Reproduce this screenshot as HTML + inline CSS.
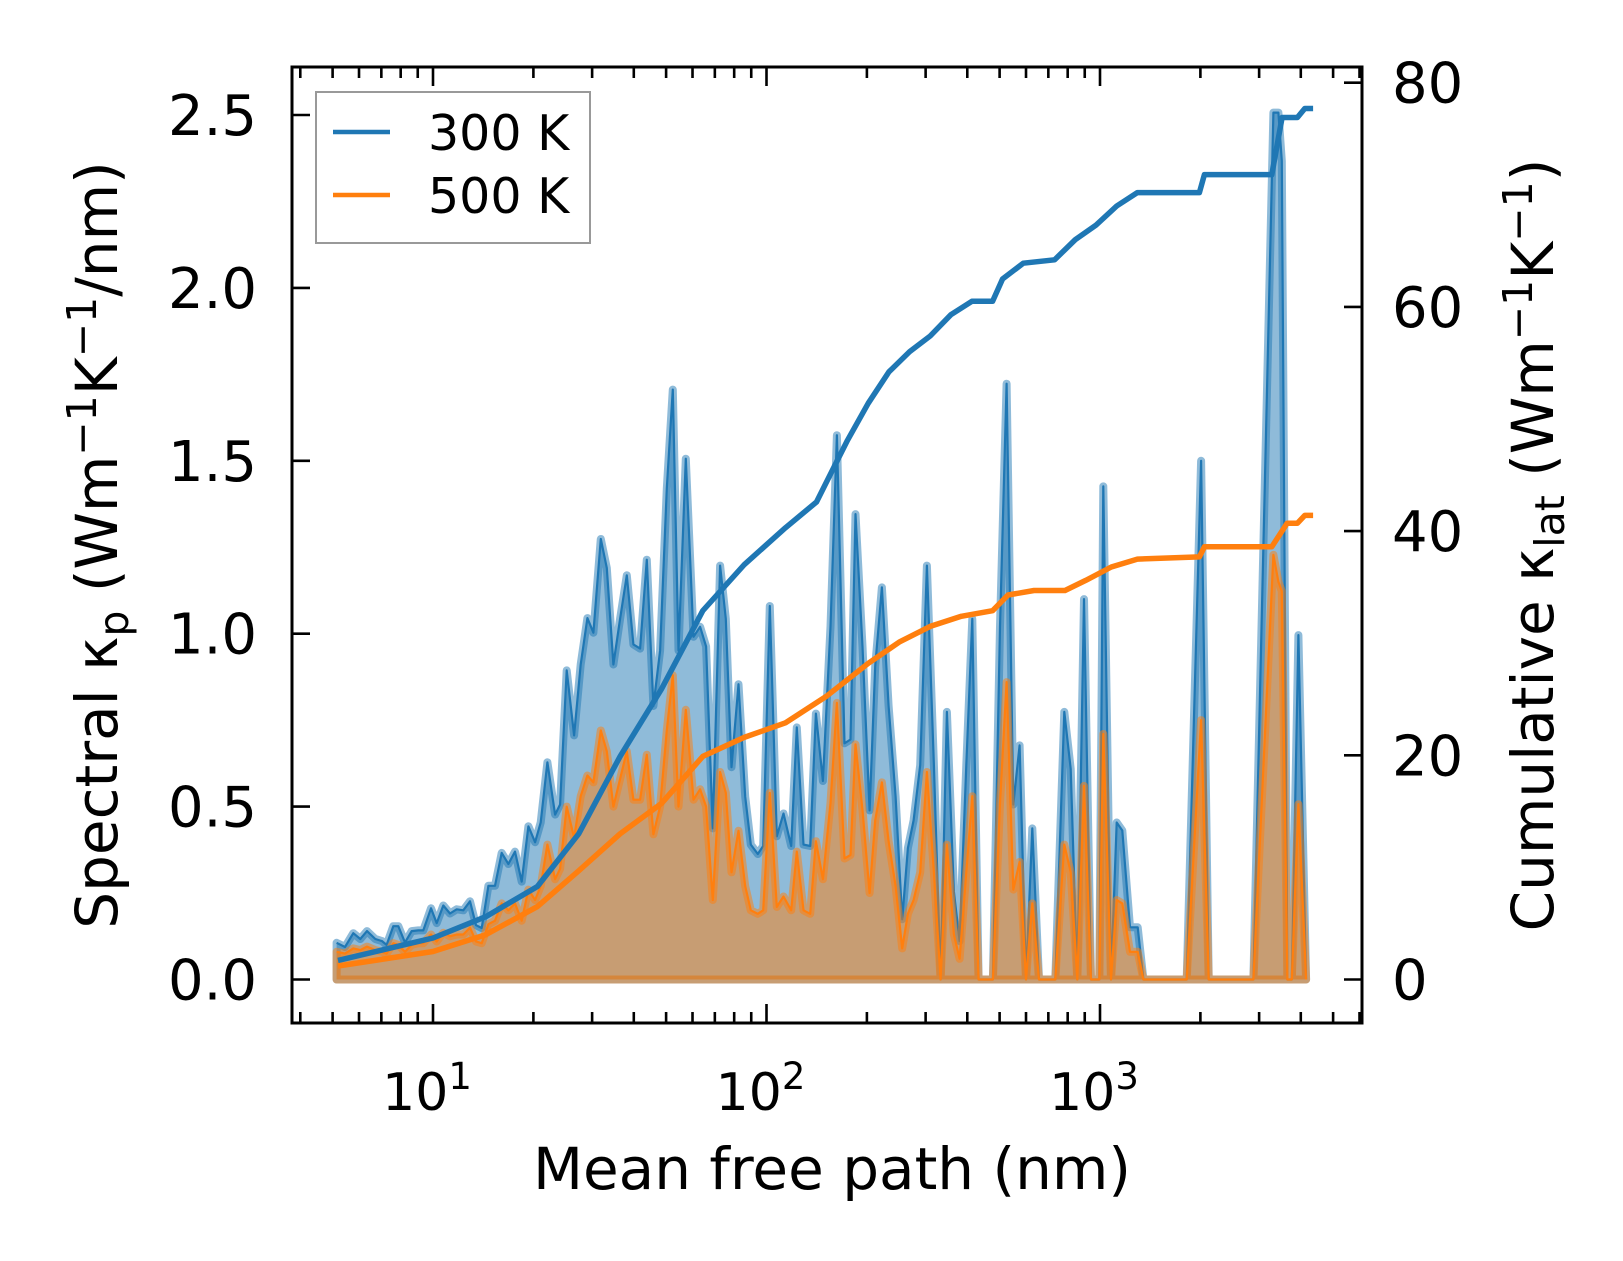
<!DOCTYPE html>
<html><head><meta charset="utf-8"><style>
html,body{margin:0;padding:0;background:#fff;}
svg{display:block;}
text{font-family:"DejaVu Sans","Liberation Sans",sans-serif;fill:#000;}
</style></head><body>
<svg id="chart" width="1623" height="1261" viewBox="0 0 1623 1261" xmlns="http://www.w3.org/2000/svg">
<rect width="1623" height="1261" fill="#fff"/>
<g id="plot"></g>
<g id="axes"></g>
</svg>
<script>
// log10 of mean free path (nm)
const logMfp = [0.711,0.736,0.761,0.782,0.802,0.827,0.847,0.861,0.881,0.896,0.916,0.936,0.956,0.971,0.994,1.011,1.031,1.051,1.071,1.091,1.111,1.129,1.146,1.166,1.186,1.206,1.226,1.246,1.266,1.286,1.306,1.323,1.343,1.366,1.381,1.401,1.423,1.443,1.463,1.481,1.503,1.521,1.541,1.561,1.581,1.601,1.621,1.641,1.661,1.681,1.701,1.719,1.736,1.758,1.781,1.801,1.819,1.839,1.861,1.878,1.895,1.916,1.936,1.953,1.974,1.990,2.010,2.031,2.051,2.074,2.091,2.111,2.131,2.148,2.169,2.192,2.211,2.234,2.252,2.267,2.288,2.309,2.326,2.346,2.366,2.387,2.407,2.424,2.441,2.461,2.481,2.502,2.522,2.541,2.562,2.579,2.599,2.617,2.636,2.659,2.679,2.700,2.720,2.740,2.759,2.778,2.797,2.817,2.837,2.866,2.893,2.912,2.932,2.952,2.973,2.998,3.010,3.033,3.050,3.067,3.090,3.113,3.130,3.148,3.200,3.260,3.303,3.326,3.343,3.400,3.460,3.520,3.535,3.545,3.562,3.575,3.595,3.618,3.640];
const k300 = [0.106,0.094,0.134,0.117,0.14,0.117,0.111,0.10,0.154,0.154,0.107,0.14,0.142,0.142,0.206,0.163,0.214,0.191,0.203,0.2,0.226,0.157,0.149,0.271,0.271,0.366,0.334,0.37,0.283,0.443,0.397,0.454,0.628,0.477,0.506,0.894,0.706,0.911,1.045,1.003,1.274,1.19,0.911,1.043,1.169,0.969,0.957,1.214,0.791,0.951,1.42,1.706,0.951,1.506,0.991,1.02,0.963,0.437,1.197,1.043,0.614,0.854,0.529,0.39,0.363,0.386,1.08,0.414,0.48,0.386,0.729,0.39,0.386,0.769,0.574,1.02,1.574,0.683,0.694,1.346,0.963,0.489,0.906,1.134,0.791,0.529,0.174,0.38,0.46,0.62,1.197,0.62,0,0.774,0.254,0.111,0.62,1.043,0,0,0,1.02,1.723,0.506,0.677,0,0.437,0,0,0,0.774,0.609,0,1.1,0,0,1.426,0,0.454,0.431,0.151,0.151,0,0,0,0,1.5,0,0,0,0,2.507,2.507,2.367,0,0,0.996,0];
const k500 = [0.08,0.075,0.09,0.085,0.095,0.085,0.08,0.075,0.105,0.10,0.08,0.10,0.105,0.105,0.13,0.11,0.135,0.125,0.13,0.13,0.15,0.11,0.105,0.16,0.17,0.22,0.2,0.22,0.17,0.26,0.23,0.27,0.39,0.29,0.32,0.50,0.41,0.53,0.59,0.57,0.72,0.66,0.50,0.58,0.66,0.52,0.52,0.65,0.42,0.50,0.72,0.88,0.50,0.78,0.52,0.55,0.50,0.23,0.60,0.54,0.31,0.43,0.27,0.20,0.19,0.20,0.54,0.21,0.24,0.20,0.37,0.20,0.19,0.40,0.29,0.51,0.80,0.35,0.36,0.68,0.49,0.25,0.46,0.57,0.40,0.27,0.09,0.19,0.23,0.31,0.60,0.31,0,0.39,0.13,0.06,0.31,0.53,0,0,0,0.51,0.86,0.26,0.34,0,0.22,0,0,0,0.39,0.31,0,0.56,0,0,0.71,0,0.23,0.22,0.08,0.08,0,0,0,0,0.75,0,0,0,0,1.228,1.15,1.123,0,0,0.507,0];
// cumulative kappa
const cumLog = [0.715,1.0,1.158,1.313,1.437,1.561,1.685,1.809,1.933,2.057,2.150,2.197,2.243,2.305,2.367,2.429,2.491,2.553,2.616,2.678,2.708,2.770,2.864,2.926,2.988,3.050,3.112,3.298,3.313,3.515,3.546,3.592,3.614,3.639];
const cum300 = [1.7,3.7,5.6,8.3,13,19.9,25.9,32.9,37,40.3,42.6,45.4,48.1,51.4,54.2,56,57.4,59.3,60.5,60.5,62.5,63.9,64.2,66,67.3,69,70.2,70.2,71.8,71.8,76.9,76.9,77.7,77.7];
const cum500Log = [0.715,1.0,1.158,1.313,1.437,1.561,1.685,1.809,1.933,2.057,2.181,2.305,2.398,2.491,2.584,2.678,2.724,2.802,2.895,2.957,3.034,3.112,3.298,3.313,3.515,3.561,3.592,3.614,3.639];
const cum500 = [1.2,2.5,4.0,6.5,9.7,13,15.7,19.9,21.6,22.9,25.3,28.2,30.1,31.5,32.4,32.9,34.3,34.7,34.7,35.6,36.8,37.5,37.7,38.6,38.6,40.7,40.7,41.4,41.4];
const leftTicks = [0,0.5,1.0,1.5,2.0,2.5];
const leftTickLabels = ["0.0","0.5","1.0","1.5","2.0","2.5"];
const rightTicks = [0,20,40,60,80];
const xMajor = [1,2,3];

const NS="http://www.w3.org/2000/svg";
const L=292,R=1362,T=67,B=1023;
const X = lg => 433 + (lg-1)*333.5;
const Y = v => 979.5 - v*345.8;
const Y2 = c => 979.5 - c*11.21;
const plot=document.getElementById('plot'), axes=document.getElementById('axes');
function mk(tag, attrs, parent){const e=document.createElementNS(NS,tag);for(const k in attrs)e.setAttribute(k,attrs[k]);parent.appendChild(e);return e;}

function area(ks,color,name){
  const n=Math.min(logMfp.length,ks.length);
  const pts=[];
  for(let i=0;i<n;i++){pts.push(X(logMfp[i]).toFixed(1)+' '+Y(+ks[i]||0).toFixed(1));}
  const d='M'+X(logMfp[0]).toFixed(1)+' '+Y(0).toFixed(1)+' L'+pts.join(' L')+' L'+X(logMfp[n-1]).toFixed(1)+' '+Y(0).toFixed(1)+' Z';
  const a=mk('path',{d:d,fill:color,'fill-opacity':0.5,stroke:color,'stroke-opacity':0.5,'stroke-width':8,'stroke-linejoin':'round'},plot);
  
  
  const l=mk('path',{d:'M'+pts.join(' L'),fill:'none',stroke:color,'stroke-width':2.2,'stroke-linejoin':'round'},plot);
  
  
}
area(k300,'#1f77b4','spectral-300k');
area(k500,'#ff7f0e','spectral-500k');
function cumLine(xs,vs,color,name){
  const n=Math.min(xs.length,vs.length);
  const pts=[];
  for(let i=0;i<n;i++)pts.push(X(xs[i]).toFixed(1)+' '+Y2(vs[i]).toFixed(1));
  const l=mk('path',{d:'M'+pts.join(' L'),fill:'none',stroke:color,'stroke-width':5.5,'stroke-linejoin':'round'},plot);
  
  
}
cumLine(cumLog,cum300,'#1f77b4','cumulative-300k');
cumLine(cum500Log,cum500,'#ff7f0e','cumulative-500k');

const sp=mk('rect',{x:L,y:T,width:R-L,height:B-T,fill:'none',stroke:'#000','stroke-width':3},axes);


leftTicks.forEach((v,i)=>{
  const t=mk('line',{x1:L,x2:L+18,y1:Y(v),y2:Y(v),stroke:'#000','stroke-width':2.6},axes);
  
  
  const tx=mk('text',{x:257,y:Y(v)+20,'font-size':56,'text-anchor':'end'},axes);
  tx.textContent=leftTickLabels[i];
  
  
});
rightTicks.forEach(v=>{
  const t=mk('line',{x1:R-18,x2:R,y1:Y2(v),y2:Y2(v),stroke:'#000','stroke-width':2.6},axes);
  
  
  const tx=mk('text',{x:1392,y:Y2(v)+20,'font-size':56},axes);
  tx.textContent=String(v);
  
  
});
for(let d=0;d<=3;d++){for(let m=1;m<=9;m++){
  const lg=d+Math.log10(m); const x=X(lg); if(x<L+2||x>R-2)continue;
  const len=m===1?19:11;
  const b=mk('line',{x1:x,x2:x,y1:B,y2:B-len,stroke:'#000','stroke-width':2.6},axes);
  
  
  const t=mk('line',{x1:x,x2:x,y1:T,y2:T+len,stroke:'#000','stroke-width':2.6},axes);
  
  
}}
xMajor.forEach(p=>{
  const tx=mk('text',{x:X(p)-6,y:1110,'font-size':52,'text-anchor':'middle'},axes);
  
  
  tx.textContent='10';
  const s=mk('tspan',{dy:-21,'font-size':37},tx); s.textContent=String(p);
});
</script>
<svg style="position:absolute;left:0;top:0" width="1623" height="1261" viewBox="0 0 1623 1261" xmlns="http://www.w3.org/2000/svg">
<g>
<rect x="316" y="92" width="274" height="151" fill="#fff" fill-opacity="0.8" stroke="#999" stroke-width="2"/>
<line x1="333" y1="132" x2="390" y2="132" stroke="#1f77b4" stroke-width="4.5"/>
<text x="428" y="150" font-size="49" font-family="DejaVu Sans, sans-serif">300 K</text>
<line x1="333" y1="195" x2="390" y2="195" stroke="#ff7f0e" stroke-width="4.5"/>
<text x="428" y="213" font-size="49" font-family="DejaVu Sans, sans-serif">500 K</text>
</g>
<text x="832" y="1189" font-size="58" text-anchor="middle" font-family="DejaVu Sans, sans-serif">Mean free path (nm)</text>
<text transform="translate(117,545) rotate(-90)" font-size="58" text-anchor="middle" font-family="DejaVu Sans, sans-serif">Spectral κ<tspan font-size="41" dy="11">p</tspan><tspan dy="-11"> (Wm</tspan><tspan font-size="41" dy="-21">−1</tspan><tspan dy="21">K</tspan><tspan font-size="41" dy="-21">−1</tspan><tspan dy="21">/nm)</tspan></text>
<text transform="translate(1553,545) rotate(-90)" font-size="58" text-anchor="middle" font-family="DejaVu Sans, sans-serif">Cumulative κ<tspan font-size="41" dy="11">lat</tspan><tspan dy="-11"> (Wm</tspan><tspan font-size="41" dy="-21">−1</tspan><tspan dy="21">K</tspan><tspan font-size="41" dy="-21">−1</tspan><tspan dy="21">)</tspan></text>
</svg>
</body></html>
